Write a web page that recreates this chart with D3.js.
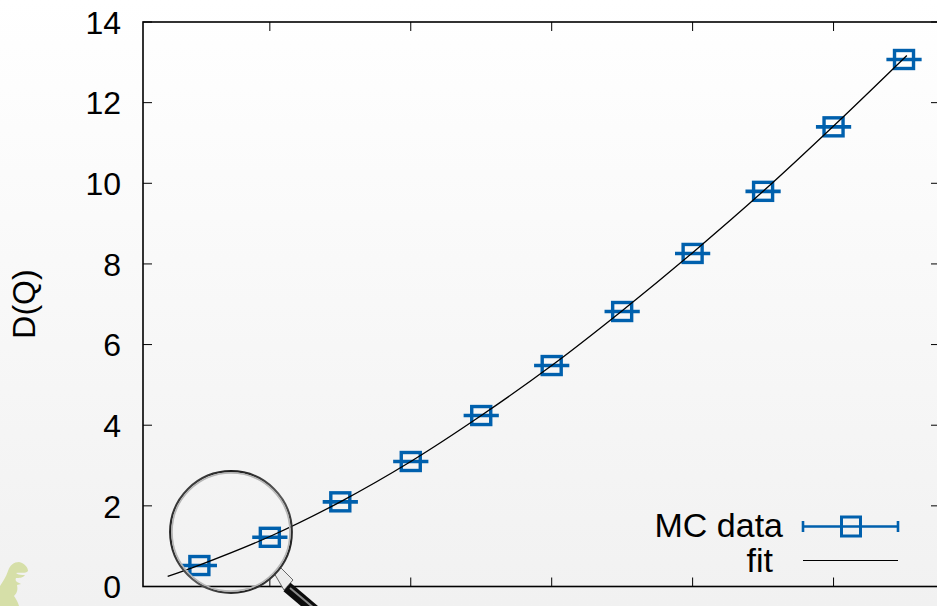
<!DOCTYPE html>
<html>
<head>
<meta charset="utf-8">
<script src="https://cdn.jsdelivr.net/npm/d3@7"></script>
<style>
html, body { margin: 0; padding: 0; overflow: hidden; }
svg { display: block; }
text { font-family: "Liberation Sans", sans-serif; fill: #000; }
</style>
</head>
<body>
<svg id="chart"></svg>
<script>
var width = 937,
	height = 606;

// data
var qValues = [1, 2, 3, 4, 5, 6, 7, 8, 9, 10, 11];
var dValues = [0.52, 1.22, 2.1, 3.1, 4.24, 5.48, 6.82, 8.26, 9.8, 11.4, 13.07];
var qError = [0.25, 0.25, 0.25, 0.25, 0.25, 0.25, 0.25, 0.25, 0.25, 0.25, 0.25];
var fitQ = [0.55, 1, 2, 3, 4, 5, 6, 7, 8, 9, 10, 11.04];
var fitD = [0.25, 0.53, 1.24, 2.1, 3.1, 4.24, 5.48, 6.84, 8.28, 9.8, 11.42, 13.17];
var xTicks = [2, 4, 6, 8, 10];
var yTicks = [0, 2, 4, 6, 8, 10, 12, 14];
var legendLabels = ["MC data", "fit"];

var blue = "#0060ad";

var margin = {left: 143, top: 22, right: 940, bottom: 586.5};

var x = d3.scaleLinear().domain([0.2, 11.5]).range([margin.left, 199 + 10.5 * 70.5]);
var y = d3.scaleLinear().domain([0, 14]).range([margin.bottom, margin.top]);

var svg = d3.select("#chart").attr("width", width).attr("height", height);

var defs = svg.append("defs");

var bg = defs.append("linearGradient").attr("id", "bg")
	.attr("x1", 0).attr("y1", 0).attr("x2", 0).attr("y2", 1);
bg.append("stop").attr("offset", "0%").attr("stop-color", "#ffffff");
bg.append("stop").attr("offset", "100%").attr("stop-color", "#f1f1f1");

var ring = defs.append("linearGradient").attr("id", "ring")
	.attr("x1", 0).attr("y1", 0).attr("x2", 1).attr("y2", 1);
ring.append("stop").attr("offset", "0%").attr("stop-color", "#6a6a6a");
ring.append("stop").attr("offset", "25%").attr("stop-color", "#1c1c1c");
ring.append("stop").attr("offset", "55%").attr("stop-color", "#5a5a5a");
ring.append("stop").attr("offset", "80%").attr("stop-color", "#222222");
ring.append("stop").attr("offset", "100%").attr("stop-color", "#666666");

svg.append("rect").attr("width", width).attr("height", height).attr("fill", "url(#bg)");

// dino in the corner
svg.append("path")
	.attr("d", "M0,586 C3,581 6,577 8,571 C10,565 14,562 19,562 C24,563 28,567 28,571 C25,574 21,572 16,573 C18,575 22,575 25,575 C23,578 19,578 16,578 C15,580 16,581 17,582 L21,584 L17,585 C18,590 17,593 14,596 C16,599 18,602 19,606 L0,606 Z")
	.attr("fill", "#d6dfa8");

// frame and ticks
svg.append("rect")
	.attr("x", margin.left).attr("y", margin.top)
	.attr("width", margin.right - margin.left).attr("height", margin.bottom - margin.top)
	.attr("fill", "none").attr("stroke", "#000").attr("stroke-width", 1.6);

var tickLen = 9;
svg.selectAll(".xtick").data(xTicks).enter().append("path")
	.attr("class", "xtick")
	.attr("d", function(d) {
		return "M" + x(d) + "," + margin.bottom + "v" + (-tickLen) + "M" + x(d) + "," + margin.top + "v" + tickLen;
	})
	.attr("stroke", "#000").attr("stroke-width", 1);
svg.selectAll(".ytick").data(yTicks).enter().append("path")
	.attr("class", "ytick")
	.attr("d", function(d) {
		return "M" + margin.left + "," + y(d) + "h" + tickLen + "M" + margin.right + "," + y(d) + "h" + (-tickLen);
	})
	.attr("stroke", "#000").attr("stroke-width", 1);

var yAxis = d3.axisLeft(y).tickValues(yTicks).tickFormat(d3.format("d")).tickSize(0).tickPadding(22);
var yg = svg.append("g").attr("transform", "translate(" + margin.left + ",1)").call(yAxis);
yg.select(".domain").remove();
yg.selectAll("text").attr("font-size", 32).style("font-family", '"Liberation Sans", sans-serif').attr("fill", "#000");

svg.append("text")
	.attr("transform", "translate(35,304) rotate(-90)")
	.attr("text-anchor", "middle")
	.attr("font-size", 32)
	.text("D(Q)");

// data points with x error bars
var pts = svg.selectAll(".pt").data(qValues).enter().append("g").attr("class", "pt");
pts.append("line")
	.attr("x1", function(d, i) { return x(d - qError[i]); })
	.attr("x2", function(d, i) { return x(d + qError[i]); })
	.attr("y1", function(d, i) { return y(dValues[i]); })
	.attr("y2", function(d, i) { return y(dValues[i]); })
	.attr("stroke", blue).attr("stroke-width", 3.6);
pts.append("rect")
	.attr("x", function(d) { return x(d) - 9.5; })
	.attr("y", function(d, i) { return y(dValues[i]) - 9; })
	.attr("width", 19).attr("height", 18)
	.attr("fill", "none").attr("stroke", blue).attr("stroke-width", 3.4);

// fit
var fitLine = d3.line()
	.x(function(d) { return x(d); })
	.y(function(d, i) { return y(fitD[i]); })
	.curve(d3.curveCatmullRom);
svg.append("path").attr("d", fitLine(fitQ))
	.attr("fill", "none").attr("stroke", "#000").attr("stroke-width", 1.3);

// legend
var legend = svg.append("g");
legend.selectAll("text").data(legendLabels).enter().append("text")
	.attr("x", function(d, i) { return i == 0 ? 783 : 773; })
	.attr("y", function(d, i) { return i == 0 ? 537 : 572; })
	.attr("text-anchor", "end")
	.attr("font-size", 34)
	.text(function(d) { return d; });
legend.append("path")
	.attr("d", "M803,526.5H898M803,521V532M898,521V532")
	.attr("fill", "none").attr("stroke", blue).attr("stroke-width", 2.6);
legend.append("rect")
	.attr("x", 841.5).attr("y", 517).attr("width", 19).attr("height", 19)
	.attr("fill", "none").attr("stroke", blue).attr("stroke-width", 3);
legend.append("line")
	.attr("x1", 803).attr("x2", 898).attr("y1", 560.5).attr("y2", 560.5)
	.attr("stroke", "#000").attr("stroke-width", 1.2);

// magnifying glass
var glass = svg.append("g");
glass.append("path")
	.attr("d", "M274,573 L281,568 L293,580 L284,590 Z")
	.attr("fill", "#ececec").attr("stroke", "#666").attr("stroke-width", 1);
glass.append("line")
	.attr("x1", 287).attr("y1", 587).attr("x2", 333).attr("y2", 626)
	.attr("stroke", "#0c0c0c").attr("stroke-width", 11);
glass.append("line")
	.attr("x1", 290).attr("y1", 588).attr("x2", 333).attr("y2", 624)
	.attr("stroke", "#8a8a8a").attr("stroke-width", 2);
glass.append("circle")
	.attr("cx", 231).attr("cy", 532).attr("r", 60.8)
	.attr("fill", "none").attr("stroke", "url(#ring)").attr("stroke-width", 2.2);
glass.append("circle")
	.attr("cx", 231).attr("cy", 532).attr("r", 59)
	.attr("fill", "none").attr("stroke", "#b5b5b5").attr("stroke-width", 1.6);
</script>
</body>
</html>
